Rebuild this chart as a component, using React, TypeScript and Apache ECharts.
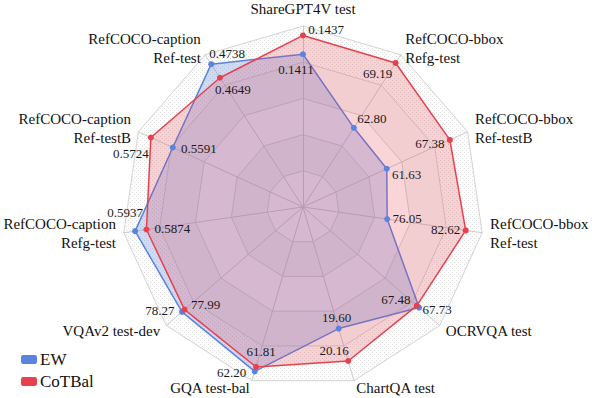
import React, { useEffect, useRef } from "react";
import * as echarts from "echarts";

const indicatorNames = [
  "ShareGPT4V test",
  "RefCOCO-caption\nRef-test",
  "RefCOCO-caption\nRef-testB",
  "RefCOCO-caption\nRefg-test",
  "VQAv2 test-dev",
  "GQA test-bal",
  "ChartQA test",
  "OCRVQA test",
  "RefCOCO-bbox\nRef-test",
  "RefCOCO-bbox\nRef-testB",
  "RefCOCO-bbox\nRefg-test",
];
const axisMin = [0.12, 0.38, 0.48, 0.5, 65, 48, 17.5, 55, 69, 54, 55];
const axisMax = [0.145, 0.48, 0.58, 0.6, 80, 63, 20.5, 70, 84, 69, 70];
const decimals = [4, 4, 4, 4, 2, 2, 2, 2, 2, 2, 2];

const seriesNames = ["EW", "CoTBal"];
const ewValues = [0.1411, 0.4738, 0.5591, 0.5937, 78.27, 62.2, 19.6, 67.73, 76.05, 61.63, 62.8];
const cotbalValues = [0.1437, 0.4649, 0.5724, 0.5874, 77.99, 61.81, 20.16, 67.48, 82.62, 67.38, 69.19];

// label offsets (px) relative to each vertex, per series
const ewLabelOffsets = [
  [-7, 15], [16, -11], [26, 1], [-10, -19], [-22, -1], [-23, 1],
  [-2, -11], [18, 2], [20, -1], [20, 6], [18, -9],
];
const cotbalLabelOffsets = [
  [23, -6], [13, 12], [-20, 16], [26, -1], [21, -5], [5, -15],
  [-14, -10], [-21, -6], [-20, -1], [-20, 4], [-18, 11],
];

const FONT = "Liberation Serif, Times New Roman, Times, serif";
const BLUE = "#5b83e0";
const RED = "#e8414e";

function makeDotPattern(): any {
  try {
    const c = document.createElement("canvas");
    c.width = 4;
    c.height = 4;
    const ctx = c.getContext("2d");
    if (!ctx) return "rgba(0,0,0,0.015)";
    ctx.fillStyle = "rgba(0,0,0,0.012)";
    ctx.fillRect(0, 0, 4, 4);
    ctx.fillStyle = "rgba(120,120,120,0.2)";
    ctx.fillRect(0, 0, 1, 1);
    ctx.fillRect(2, 2, 1, 1);
    return { image: c.toDataURL(), repeat: "repeat" };
  } catch (e) {
    return "rgba(0,0,0,0.015)";
  }
}

export default function App() {
  const ref = useRef<HTMLDivElement>(null);
  useEffect(() => {
    if (!ref.current) return;
    const chart = echarts.init(ref.current, null, { renderer: "svg" });

    const allValues = [ewValues, cotbalValues];
    const allOffsets = [ewLabelOffsets, cotbalLabelOffsets];

    const labelItems: any[] = [];
    allValues.forEach((vals, s) => {
      vals.forEach((_, k) => {
        labelItems.push({
          name: "lbl-" + seriesNames[s] + "-" + k,
          value: vals,
          symbol: "circle",
          symbolSize: 1,
          itemStyle: { color: "rgba(0,0,0,0)", borderColor: "rgba(0,0,0,0)" },
          lineStyle: { width: 0, opacity: 0 },
          label: {
            show: true,
            position: "inside",
            offset: allOffsets[s][k],
            color: "#1a1a1a",
            fontSize: 13,
            fontFamily: FONT,
            formatter: (p: any) => (p.value === vals[k] ? vals[k].toFixed(decimals[k]) : ""),
          },
        });
      });
    });

    chart.setOption({
      animation: false,
      backgroundColor: "#ffffff",
      textStyle: { fontFamily: FONT },
      legend: {
        data: seriesNames,
        orient: "vertical",
        left: 16,
        bottom: 3,
        itemWidth: 16,
        itemHeight: 9,
        itemGap: 5,
        icon: "roundRect",
        textStyle: { fontSize: 17, fontFamily: FONT, color: "#111", padding: [0, 0, 0, -2] },
      },
      radar: {
        center: [303, 207],
        radius: 181,
        startAngle: 90,
        shape: "polygon",
        splitNumber: 5,
        nameGap: 8,
        axisName: { color: "#111", fontSize: 15, fontFamily: FONT, lineHeight: 19 },
        indicator: indicatorNames.map((n, i) => ({ name: n, min: axisMin[i], max: axisMax[i] })),
        axisLine: { lineStyle: { color: "#cccccc", width: 1 } },
        splitLine: { lineStyle: { color: "#d4d4d4", width: 1 } },
        splitArea: {
          show: true,
          areaStyle: {
            color: [
              "rgba(0,0,0,0)",
              "rgba(0,0,0,0.035)",
              "rgba(0,0,0,0)",
              "rgba(0,0,0,0.035)",
              makeDotPattern(),
            ],
          },
        },
        axisTick: { show: false },
        axisLabel: { show: false },
      },
      series: [
        {
          type: "radar",
          z: 2,
          symbol: "circle",
          symbolSize: 6,
          data: [
            {
              name: "EW",
              value: ewValues,
              itemStyle: { color: BLUE },
              lineStyle: { color: BLUE, width: 1.5 },
              areaStyle: { color: BLUE, opacity: 0.28 },
            },
            {
              name: "CoTBal",
              value: cotbalValues,
              itemStyle: { color: RED },
              lineStyle: { color: RED, width: 1.5 },
              areaStyle: { color: RED, opacity: 0.22 },
            },
          ],
        },
        {
          type: "radar",
          z: 4,
          silent: true,
          data: labelItems,
        },
      ],
    });
    return () => chart.dispose();
  }, []);
  return (
    <div
      ref={ref}
      style={{ position: "fixed", left: 0, top: 0, width: 592, height: 398 }}
    />
  );
}
